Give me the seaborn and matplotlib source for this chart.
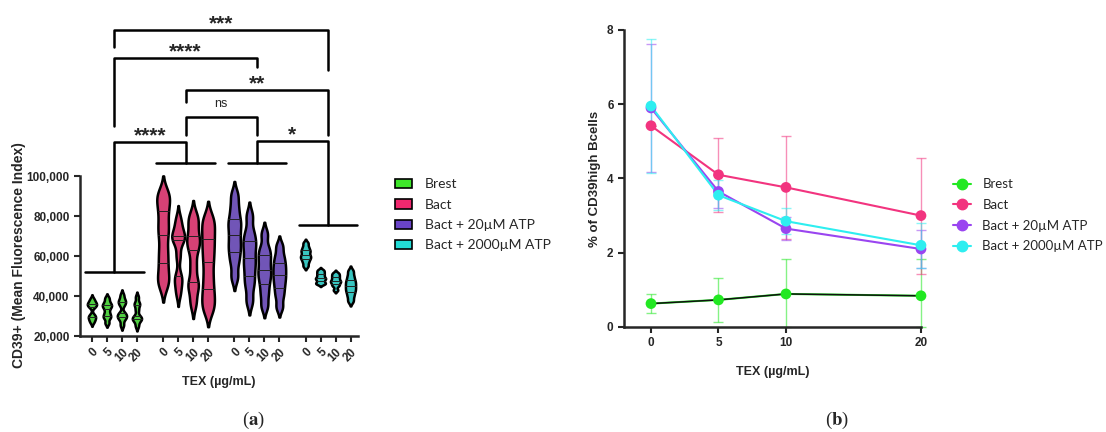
import numpy as np
import pandas as pd
import matplotlib
matplotlib.use("Agg")
import matplotlib.pyplot as plt
import seaborn as sns
from matplotlib.patches import Patch
from matplotlib.lines import Line2D

groups = ["Brest", "Bact", "Bact + 20µM ATP", "Bact + 2000µM ATP"]
doses = [0, 5, 10, 20]
dose_labels = ["0", "5", "10", "20"]
violin_colors = ["#3ee62a", "#f0286e", "#6a44c8", "#22dcd6"]
violin_widths = [0.62, 0.85, 0.85, 0.68]
line_colors = ["#22e822", "#f2347f", "#9a45f0", "#2eeef0"]

# panel (a): CD39+ MFI per donor, one list per TEX dose
brest_mfi = [
    [27000, 28500, 29500, 30500, 34500, 35500, 36000, 37000, 38500],
    [26500, 29000, 30000, 31500, 33500, 35000, 35500, 37000, 39000],
    [25500, 28500, 29500, 30500, 31500, 35500, 37000, 38000, 40500],
    [25000, 27500, 28500, 29000, 30000, 33000, 35500, 36500, 39500],
]
bact_mfi = [
    [45500, 50000, 56500, 63000, 70500, 76000, 82500, 88000, 91500],
    [41500, 47000, 50000, 60000, 68000, 69000, 70000, 74000, 78500],
    [36500, 44000, 47000, 55000, 63000, 67000, 70000, 76000, 80000],
    [33000, 38000, 43500, 50000, 57000, 63000, 68500, 74000, 79000],
]
atp20_mfi = [
    [49500, 57000, 62000, 66000, 70500, 75000, 78500, 84000, 90500],
    [37500, 45000, 50000, 55000, 59000, 64000, 67500, 72000, 80000],
    [35000, 41000, 46000, 50000, 53000, 57000, 60500, 64000, 71000],
    [34500, 40000, 44000, 47500, 50500, 53500, 56500, 60000, 65000],
]
atp2000_mfi = [
    [55000, 57000, 58500, 59500, 60500, 62000, 63000, 64500, 66500],
    [46000, 46500, 47500, 48500, 49000, 50000, 51000, 52000, 53000],
    [43000, 45000, 46000, 47000, 47500, 48500, 49500, 50500, 51500],
    [37500, 40000, 42000, 43500, 45000, 46500, 48000, 50000, 52500],
]

# panel (b): % CD39high B cells, mean and SD
brest_pct = [0.63, 0.73, 0.89, 0.84]
brest_sd = [0.25, 0.60, 0.93, 0.98]
bact_pct = [5.42, 4.10, 3.76, 3.00]
bact_sd = [0.0, 1.00, 1.38, 1.56]
atp20_pct = [5.90, 3.65, 2.65, 2.10]
atp20_sd = [1.72, 0.45, 0.30, 0.50]
atp2000_pct = [5.95, 3.55, 2.85, 2.20]
atp2000_sd = [1.80, 0.40, 0.35, 0.60]

group_step = 4.75

rows = []
for g, (name, per_dose) in enumerate(zip(groups, [brest_mfi, bact_mfi, atp20_mfi, atp2000_mfi])):
    for i, vals in enumerate(per_dose):
        for v in vals:
            rows.append({"group": name, "dose": doses[i], "pos": g * group_step + i, "mfi": v})
df_a = pd.DataFrame(rows)

rows = []
for name, m, s in zip(groups, [brest_pct, bact_pct, atp20_pct, atp2000_pct],
                      [brest_sd, bact_sd, atp20_sd, atp2000_sd]):
    for d, mv, sv in zip(doses, m, s):
        rows.append({"group": name, "tex": d, "pct": mv, "sd": sv})
df_b = pd.DataFrame(rows)

sns.set_style("ticks")
plt.rcParams["font.family"] = ["Liberation Sans", "DejaVu Sans"]
plt.rcParams["mathtext.fontset"] = "stix"

fig = plt.figure(figsize=(11.06, 4.32), dpi=100)
ax1 = fig.add_axes([0.0723, 0.2222, 0.2514, 0.7639])
ax2 = fig.add_axes([0.5642, 0.2431, 0.2685, 0.6875])

# ---- panel (a)
for name, col, w in zip(groups, violin_colors, violin_widths):
    sns.violinplot(data=df_a[df_a["group"] == name], x="pos", y="mfi", color=col,
                   native_scale=True, inner="quart", cut=2, bw_adjust=0.4,
                   density_norm="width", width=w, linewidth=1.8, linecolor="black",
                   ax=ax1)
for ln in ax1.lines:
    ln.set_linestyle("-")
    ln.set_linewidth(0.7)
    ln.set_color("#222222")

ax1.set_xlim(-0.8, 17.75)
ax1.set_ylim(20000, 185000)
ax1.spines["left"].set_bounds(20000, 100000)
for side in ["top", "right"]:
    ax1.spines[side].set_visible(False)
for side in ["left", "bottom"]:
    ax1.spines[side].set_linewidth(1.8)
ax1.set_yticks([20000, 40000, 60000, 80000, 100000])
ax1.set_yticklabels([f"{v:,}" for v in [20000, 40000, 60000, 80000, 100000]],
                    fontsize=8.5, fontweight="bold")
ticks = [g * group_step + i for g in range(4) for i in range(4)]
ax1.set_xticks(ticks)
ax1.set_xticklabels(dose_labels * 4, fontsize=8.5, fontweight="bold", rotation=45,
                    ha="right", rotation_mode="anchor")
ax1.tick_params(width=1.5, length=4)
ax1.set_ylabel("CD39+ (Mean Fluorescence Index)", fontsize=10, fontweight="bold")
ax1.yaxis.set_label_coords(-0.195, 0.245)
ax1.set_xlabel("TEX (µg/mL)", fontsize=9, fontweight="bold")
ax1.xaxis.set_label_coords(0.5, -0.122)

centres = [g * group_step + 1.5 for g in range(4)]
levels = [52000, 106500, 106500, 75500]
for c, lv in zip(centres, levels):
    ax1.plot([c - 1.95, c + 1.95], [lv, lv], color="black", lw=1.8, clip_on=False)


def bracket(a, b, y_left, y_right, top, label, ty, bold=True):
    x1, x2 = centres[a], centres[b]
    ax1.plot([x1, x1, x2, x2], [y_left, top, top, y_right], color="black",
             lw=1.8, clip_on=False)
    ax1.text((x1 + x2) / 2, ty, label, ha="center", va="center",
             fontsize=15 if bold else 9, fontweight="bold" if bold else "normal")


bracket(0, 1, 52000, 106500, 117000, "****", 120000)
bracket(2, 3, 106500, 75500, 117500, "*", 120500)
bracket(1, 2, 120500, 120500, 129500, "ns", 136000, bold=False)
bracket(1, 3, 137000, 120500, 143000, "**", 146000)
bracket(0, 2, 125000, 154500, 159000, "****", 162000)
bracket(0, 3, 164500, 153000, 173000, "***", 176000)

handles = [Patch(facecolor=c, edgecolor="black", linewidth=1.2) for c in violin_colors]
fig.legend(handles, groups, loc="upper left", bbox_to_anchor=(0.357, 0.587),
           frameon=False, handlelength=1.25, handleheight=0.65,
           handletextpad=0.9, labelspacing=0.6, borderpad=0, borderaxespad=0,
           prop={"family": ["Lato", "DejaVu Sans"], "size": 10})

# ---- panel (b)
for name, col, m, s in zip(groups, line_colors, [brest_pct, bact_pct, atp20_pct, atp2000_pct],
                           [brest_sd, bact_sd, atp20_sd, atp2000_sd]):
    lower = [min(sv, mv) for mv, sv in zip(m, s)]
    ax2.errorbar(doses, m, yerr=[lower, s], fmt="none", ecolor=col, alpha=0.55,
                 elinewidth=1, capsize=3.5, capthick=1, zorder=1, clip_on=False)

sns.lineplot(data=df_b, x="tex", y="pct", hue="group", palette=line_colors,
             linewidth=1.5, legend=False, ax=ax2, zorder=2)
ax2.plot(doses, brest_pct, color="#111111", lw=1.1, zorder=2.5)
sns.scatterplot(data=df_b, x="tex", y="pct", hue="group", palette=line_colors,
                s=60, edgecolor="none", legend=False, ax=ax2, zorder=3, clip_on=False)

ax2.set_xlim(-2, 20)
ax2.set_ylim(0, 8)
for side in ["top", "right"]:
    ax2.spines[side].set_visible(False)
for side in ["left", "bottom"]:
    ax2.spines[side].set_linewidth(1.8)
ax2.set_xticks(doses)
ax2.set_xticklabels(dose_labels, fontsize=8.5, fontweight="bold")
ax2.set_yticks([0, 2, 4, 6, 8])
ax2.set_yticklabels(["0", "2", "4", "6", "8"], fontsize=8.5, fontweight="bold")
ax2.tick_params(width=1.5, length=4)
ax2.set_ylabel("% of CD39high Bcells", fontsize=9.5, fontweight="bold")
ax2.yaxis.set_label_coords(-0.077, 0.5)
ax2.set_xlabel("TEX (µg/mL)", fontsize=9, fontweight="bold")
ax2.xaxis.set_label_coords(0.5, -0.13)

handles = [Line2D([0], [0], color=c, lw=1.5, marker="o", markersize=7.5) for c in line_colors]
fig.legend(handles, groups, loc="upper left", bbox_to_anchor=(0.862, 0.587),
           frameon=False, handlelength=1.3, handletextpad=0.9, labelspacing=0.65,
           borderpad=0, borderaxespad=0,
           prop={"family": ["Lato", "DejaVu Sans"], "size": 9.5})

fig.text(253 / 1106, 1 - 420 / 432, r"($\mathbf{a}$)", ha="center", va="center",
         fontsize=13.5, family="Liberation Serif")
fig.text(837 / 1106, 1 - 420 / 432, r"($\mathbf{b}$)", ha="center", va="center",
         fontsize=13.5, family="Liberation Serif")

fig.savefig("out.png", dpi=100)
